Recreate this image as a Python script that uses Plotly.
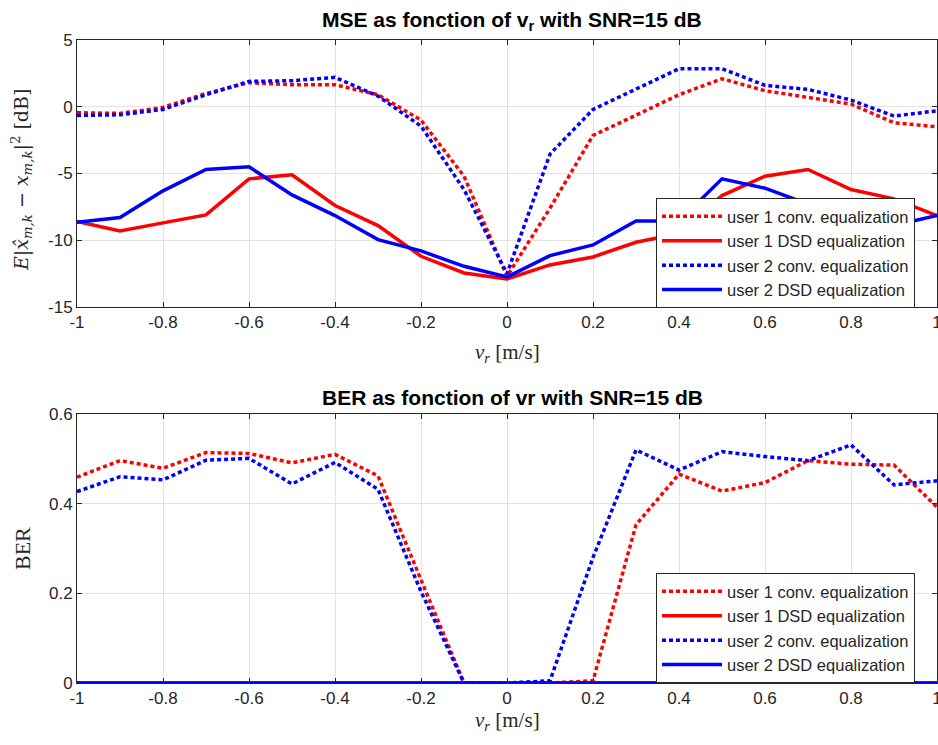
import plotly.graph_objects as go

v_r = [-1.0, -0.9, -0.8, -0.7, -0.6, -0.5, -0.4, -0.3, -0.2, -0.1, 0.0,
       0.1, 0.2, 0.3, 0.4, 0.5, 0.6, 0.7, 0.8, 0.9, 1.0]

# MSE [dB]
mse_u1_conv = [-0.45, -0.5, -0.05, 1.0, 1.8, 1.65, 1.65, 0.9, -1.0, -5.2, -12.7,
               -7.6, -2.15, -0.65, 0.9, 2.1, 1.2, 0.7, 0.2, -1.2, -1.5]
mse_u1_dsd = [-8.6, -9.3, -8.7, -8.1, -5.4, -5.1, -7.4, -8.9, -11.2, -12.45, -12.9,
              -11.85, -11.25, -10.15, -9.5, -6.65, -5.2, -4.7, -6.2, -6.9, -8.15]
mse_u2_conv = [-0.65, -0.6, -0.2, 0.9, 1.9, 1.95, 2.2, 0.8, -1.45, -6.2, -12.5,
               -3.55, -0.2, 1.3, 2.85, 2.85, 1.6, 1.3, 0.5, -0.7, -0.3]
mse_u2_dsd = [-8.65, -8.3, -6.3, -4.7, -4.5, -6.6, -8.15, -9.95, -10.8, -11.95, -12.75,
              -11.15, -10.35, -8.55, -8.55, -5.4, -6.1, -7.3, -8.8, -8.9, -8.15]

# BER
ber_u1_conv = [0.459, 0.496, 0.479, 0.514, 0.512, 0.491, 0.510, 0.462, 0.230, 0.0, 0.0,
               0.0, 0.005, 0.353, 0.466, 0.428, 0.447, 0.496, 0.488, 0.486, 0.392]
ber_u1_dsd = [0.0] * 21
ber_u2_conv = [0.427, 0.460, 0.453, 0.497, 0.501, 0.444, 0.492, 0.432, 0.204, 0.0, 0.0,
               0.005, 0.28, 0.52, 0.475, 0.516, 0.505, 0.496, 0.531, 0.442, 0.451]
ber_u2_dsd = [0.0] * 21

series_names = ["user 1 conv. equalization", "user 1 DSD equalization",
                "user 2 conv. equalization", "user 2 DSD equalization"]

x_ticks = [-1, -0.8, -0.6, -0.4, -0.2, 0, 0.2, 0.4, 0.6, 0.8, 1]
x_ticktext = ["-1", "-0.8", "-0.6", "-0.4", "-0.2", "0", "0.2", "0.4", "0.6", "0.8", "1"]
mse_ticks = [-15, -10, -5, 0, 5]
mse_ticktext = ["-15", "-10", "-5", "0", "5"]
ber_ticks = [0, 0.2, 0.4, 0.6]
ber_ticktext = ["0", "0.2", "0.4", "0.6"]

RED = "#ff0000"
BLUE = "#0000ff"
LW = 3.5
DOT = "4px,3px"
AX = "#262626"
GRID = "#e3e3e3"
FONT = "Liberation Sans, Arial, sans-serif"
SERIF = "Liberation Serif, Times New Roman, serif"

W, H = 938, 745
ML, MR, MT, MB = 77, 1, 40, 62
PW = W - ML - MR
PH = H - MT - MB


def px_x(p):
    return (p - ML) / PW


def px_y(p):
    return (H - MB - p) / PH


styles = [(RED, DOT), (RED, "solid"), (BLUE, DOT), (BLUE, "solid")]

fig = go.Figure()
for data, (c, d), nm in zip([mse_u1_conv, mse_u1_dsd, mse_u2_conv, mse_u2_dsd], styles, series_names):
    fig.add_trace(go.Scatter(x=v_r, y=data, mode="lines", name=nm,
                             line=dict(color=c, dash=d, width=LW),
                             xaxis="x", yaxis="y", legend="legend"))
for data, (c, d), nm in zip([ber_u1_conv, ber_u1_dsd, ber_u2_conv, ber_u2_dsd], styles, series_names):
    fig.add_trace(go.Scatter(x=v_r, y=data, mode="lines", name=nm,
                             line=dict(color=c, dash=d, width=LW),
                             xaxis="x2", yaxis="y2", legend="legend2"))

axis_common = dict(showline=True, linecolor=AX, linewidth=1, mirror="ticks",
                   ticks="inside", ticklen=5, tickcolor=AX, tickwidth=1,
                   showgrid=True, gridcolor=GRID, gridwidth=1, zeroline=False,
                   automargin=False, ticklabeloverflow="allow",
                   tickfont=dict(family=FONT, size=17, color=AX))

top_dom = [px_y(307), 1.0]
bot_dom = [0.0, px_y(414)]

legend_common = dict(xanchor="left", yanchor="top", bgcolor="white", bordercolor=AX, borderwidth=1,
                     font=dict(family=FONT, size=16.5, color=AX), itemwidth=60, tracegroupgap=0)

fig.update_layout(
    width=W, height=H,
    margin=dict(l=ML, r=MR, t=MT, b=MB, autoexpand=False),
    paper_bgcolor="white", plot_bgcolor="white",
    showlegend=True,
    xaxis=dict(domain=[0, 1], anchor="y", range=[-1, 1], tickvals=x_ticks, ticktext=x_ticktext,
               **axis_common),
    yaxis=dict(domain=top_dom, anchor="x", range=[-15, 5], tickvals=mse_ticks, ticktext=mse_ticktext,
               **axis_common),
    xaxis2=dict(domain=[0, 1], anchor="y2", range=[-1, 1], tickvals=x_ticks, ticktext=x_ticktext,
                **axis_common),
    yaxis2=dict(domain=bot_dom, anchor="x2", range=[0, 0.6], tickvals=ber_ticks, ticktext=ber_ticktext,
                **axis_common),
    legend=dict(x=px_x(656), y=px_y(198), **legend_common),
    legend2=dict(x=px_x(656), y=px_y(573), **legend_common),
)

ann_common = dict(xref="paper", yref="paper", showarrow=False, xanchor="center", yanchor="middle")
fig.layout.annotations = [
    dict(text="<b>MSE as fonction of v<sub>r</sub> with SNR=15 dB</b>", x=px_x(512), y=px_y(21),
         font=dict(family=FONT, size=21, color="black"), **ann_common),
    dict(text="<b>BER as fonction of vr with SNR=15 dB</b>", x=px_x(512), y=px_y(397),
         font=dict(family=FONT, size=21, color="black"), **ann_common),
    dict(text="<i>v<sub>r</sub></i> [m/s]", x=px_x(507), y=px_y(353),
         font=dict(family=SERIF, size=21, color=AX), **ann_common),
    dict(text="<i>v<sub>r</sub></i> [m/s]", x=px_x(507), y=px_y(721),
         font=dict(family=SERIF, size=21, color=AX), **ann_common),
    dict(text="<i>E</i>|<i>x̂<sub>m,k</sub></i> − <i>x<sub>m,k</sub></i>|<sup>2</sup> [dB]",
         x=px_x(22), y=px_y(180), textangle=-90,
         font=dict(family="DejaVu Serif, serif", size=19, color=AX), **ann_common),
    dict(text="BER", x=px_x(22), y=px_y(549), textangle=-90,
         font=dict(family=SERIF, size=22, color=AX), **ann_common),
]

fig.write_html("out.html", config={"displayModeBar": False},
               post_script="document.body.style.margin='0';document.body.style.overflow='hidden';")
